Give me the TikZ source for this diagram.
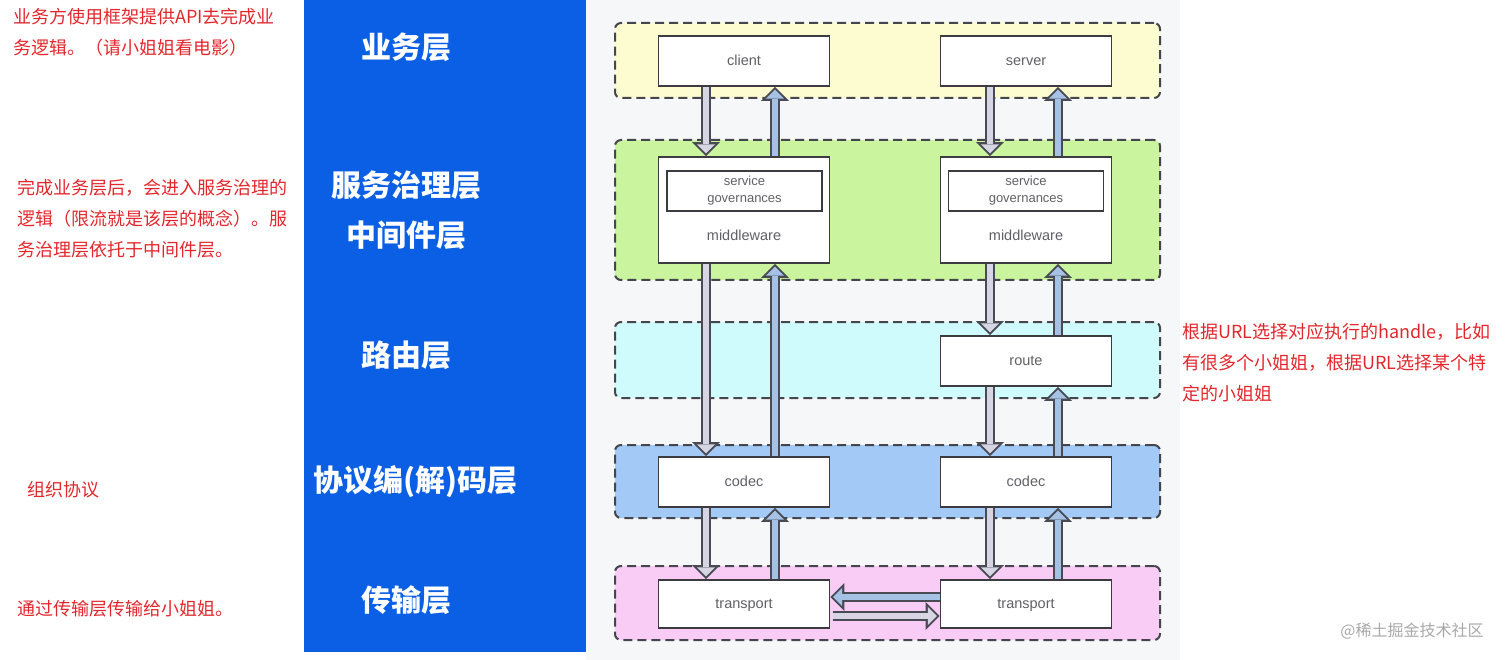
\documentclass[tikz,border=0pt]{standalone}
\usepackage{fontspec}
\setmainfont{Noto Sans CJK SC}
\newfontfamily\boxfont{Liberation Sans}
\usepackage{tikz}
\usetikzlibrary{arrows.meta, positioning}
\definecolor{colblue}{HTML}{0A5FE4}
\definecolor{panelgray}{HTML}{F6F7F9}
\definecolor{notered}{HTML}{E3262B}
\definecolor{dashgray}{HTML}{45454D}
\definecolor{boxline}{HTML}{3C3C40}
\definecolor{boxtext}{HTML}{606066}
\definecolor{bizfill}{HTML}{FCFCD0}
\definecolor{govfill}{HTML}{CAF59E}
\definecolor{routefill}{HTML}{D0FBFD}
\definecolor{codecfill}{HTML}{A3CAF6}
\definecolor{transfill}{HTML}{F9CCF6}
\definecolor{downfill}{HTML}{D5D5E3}
\definecolor{upfill}{HTML}{A5C2E4}
\definecolor{arrowline}{HTML}{4A4A55}
\definecolor{markgray}{HTML}{A8A8A8}
\tikzset{
    layerbox/.style={
        rectangle, rounded corners=6pt, draw=dashgray, fill=#1,
        dash pattern=on 9pt off 5pt, line width=2pt,
        minimum width=545pt
    },
    layerbox/.default=bizfill,
    compbox/.style={
        rectangle, draw=boxline, fill=white, line width=1.8pt,
        minimum width=171pt, minimum height=50pt,
        font=\boxfont\fontsize{14.5}{17}\selectfont, text=boxtext,
        text height=12pt, text depth=2.5pt
    },
    govbox/.style={
        rectangle, draw=boxline, fill=white, line width=1.5pt,
        minimum width=155pt, minimum height=40pt, inner sep=1pt,
        font=\boxfont\fontsize{13}{17}\selectfont, text=boxtext, align=center
    },
    boxlab/.style={
        font=\boxfont\fontsize{14.5}{17}\selectfont, text=boxtext
    },
    laylab/.style={
        font=\fontsize{30}{50}\selectfont\bfseries, text=white, align=center
    },
    notetext/.style={
        font=\fontsize{18}{31}\selectfont, text=notered,
        align=left, anchor=north west, inner sep=0pt
    },
    fatarrow/.style={
        line width=6.5pt, draw=#1,
        -{Triangle[length=9pt, width=18pt, line width=0pt]},
        shorten >=2.8pt,
        preaction={draw=arrowline, line width=10.5pt,
            -{Triangle[length=14pt, width=28pt, line width=0pt]},
            shorten >=0pt}
    },
    downarrow/.style={fatarrow=downfill},
    uparrow/.style={fatarrow=upfill},
}
\begin{document}
\begin{tikzpicture}[x=1pt, y=-1pt]
    \useasboundingbox (0,0) rectangle (1512,660);

    % Backgrounds
    \fill[colblue] (304,0) rectangle (586,652);
    \fill[panelgray] (586,0) rectangle (1180,660);

    % Layers
    \node[layerbox=bizfill, minimum height=75pt] (bizlayer) at (887.5,60.5) {};
    \node[layerbox=govfill, minimum height=140pt] (govlayer) at (887.5,210) {};
    \node[layerbox=routefill, minimum height=76pt] (routelayer) at (887.5,360) {};
    \node[layerbox=codecfill, minimum height=73pt] (codeclayer) at (887.5,481.5) {};
    \node[layerbox=transfill, minimum height=74pt] (translayer) at (887.5,603) {};

    % Layer names
    \node[laylab] (lbiz) at (406,47) {业务层};
    \node[laylab] (lgov) at (406,210) {服务治理层\\中间件层};
    \node[laylab] (lroute) at (406,355) {路由层};
    \node[laylab] (lcodec) at (415,482) {协议编(解)码层};
    \node[laylab] (ltrans) at (406,600) {传输层};

    % Left column: client side
    \node[compbox] (client) at (744,61) {client};
    \node[compbox, minimum height=106pt] (midL) at (744,210) {};
    \node[govbox] (sgL) at (744.5,191) {service\\governances};
    \node[boxlab] (mwL) at (744,235) {middleware};
    \node[compbox] (codecL) at (744,482) {codec};
    \node[compbox, minimum height=48pt] (transL) at (744,604) {transport};

    % Right column: server side
    \node[compbox] (server) at (1026,61) {server};
    \node[compbox, minimum height=106pt] (midR) at (1026,210) {};
    \node[govbox] (sgR) at (1026,191) {service\\governances};
    \node[boxlab] (mwR) at (1026,235) {middleware};
    \node[compbox] (route) at (1026,361) {route};
    \node[compbox] (codecR) at (1026,482) {codec};
    \node[compbox, minimum height=48pt] (transR) at (1026,604) {transport};

    % Downward flow
    \draw[downarrow] ([xshift=-38pt]client.south) -- ([xshift=-38pt]midL.north);
    \draw[downarrow] ([xshift=-38pt]midL.south) -- ([xshift=-38pt]codecL.north);
    \draw[downarrow] ([xshift=-38pt]codecL.south) -- ([xshift=-38pt]transL.north);
    \draw[downarrow] ([xshift=-36pt]server.south) -- ([xshift=-36pt]midR.north);
    \draw[downarrow] ([xshift=-36pt]midR.south) -- ([xshift=-36pt]route.north);
    \draw[downarrow] ([xshift=-36pt]route.south) -- ([xshift=-36pt]codecR.north);
    \draw[downarrow] ([xshift=-36pt]codecR.south) -- ([xshift=-36pt]transR.north);

    % Upward flow
    \draw[uparrow] ([xshift=31pt]transL.north) -- ([xshift=31pt]codecL.south);
    \draw[uparrow] ([xshift=31pt]codecL.north) -- ([xshift=31pt]midL.south);
    \draw[uparrow] ([xshift=31pt]midL.north) -- ([xshift=31pt]client.south);
    \draw[uparrow] ([xshift=32pt]transR.north) -- ([xshift=32pt]codecR.south);
    \draw[uparrow] ([xshift=32pt]codecR.north) -- ([xshift=32pt]route.south);
    \draw[uparrow] ([xshift=32pt]route.north) -- ([xshift=32pt]midR.south);
    \draw[uparrow] ([xshift=32pt]midR.north) -- ([xshift=32pt]server.south);

    % Transport link
    \draw[uparrow] ([yshift=7pt]transR.west) -- ([yshift=7pt]transL.east);
    \draw[downarrow] ([yshift=-12pt, xshift=3pt]transL.east) -- ([yshift=-12pt]transR.west);

    % Notes
    \node[notetext] (note1) at (13,8) {业务方使用框架提供API去完成业\\务逻辑。（请小姐姐看电影）};
    \node[notetext] (note2) at (17,179) {完成业务层后，会进入服务治理的\\逻辑（限流就是该层的概念）。服\\务治理层依托于中间件层。};
    \node[notetext] (note3) at (27,481) {组织协议};
    \node[notetext] (note4) at (17,600) {通过传输层传输给小姐姐。};
    \node[notetext] (note5) at (1182,323) {根据URL选择对应执行的handle，比如\\有很多个小姐姐，根据URL选择某个特\\定的小姐姐};

    % Watermark
    \node[font=\fontsize{16}{18}\selectfont, text=markgray] (mark) at (1412,631) {@稀土掘金技术社区};

\end{tikzpicture}
\end{document}
